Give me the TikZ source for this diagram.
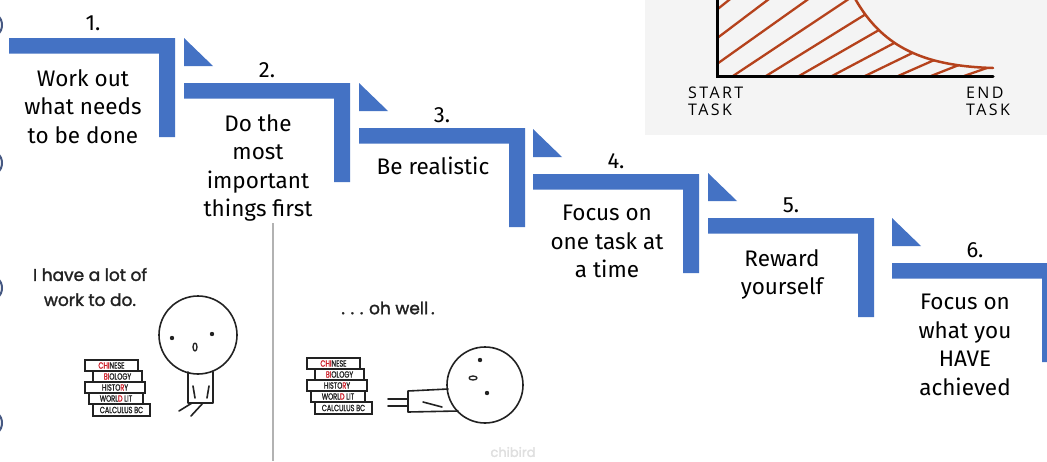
\documentclass[tikz,border=0pt]{standalone}
\usepackage{fontspec}
\setmainfont{Fira Sans}
\newfontfamily\handfont[FakeBold=1.6]{Poppins}
\newfontfamily\bookfont[FakeBold=1.4, FakeStretch=0.72]{Poppins}
\newfontfamily\chartfont[LetterSpace=15]{Open Sans}
\definecolor{stepblue}{RGB}{68,114,196}
\definecolor{rust}{RGB}{181,66,28}
\definecolor{chartbg}{RGB}{244,244,244}
\definecolor{ink}{RGB}{34,34,34}
\definecolor{bookred}{RGB}{205,30,40}
\definecolor{edgeblue}{RGB}{70,88,130}

\begin{document}
\begin{tikzpicture}[x=1pt, y=-1pt]
        % Styles
        \tikzset{stepnum/.style={font=\fontsize{22}{26}\selectfont, inner sep=0pt, anchor=base}}
        \tikzset{steptext/.style={font=\fontsize{22.5}{28.5}\selectfont, align=center, inner sep=0pt, anchor=north}}
        \tikzset{blue step/.style={fill=stepblue}}
        \tikzset{ink line/.style={draw=ink, line width=1.6pt, line cap=round, line join=round}}
        \tikzset{hand/.style={text=ink, font=\handfont\fontsize{17}{25}\selectfont, align=center}}
        \tikzset{chart label/.style={font=\chartfont\fontsize{16}{17}\selectfont, align=left, inner sep=0pt, anchor=base west}}
        \tikzset{book/.style={draw=ink, line width=1.1pt, fill=white, minimum height=11pt, inner sep=0pt, text=ink, font=\bookfont\fontsize{9}{9}\selectfont}}
        \tikzset{bookstack/.pic={
            \node[book, minimum width=53pt] (-b1) at (26.5,5.5) {\textcolor{bookred}{CHI}NESE};
            \node[book, minimum width=49pt] (-b2) at (32.5,16.5) {\textcolor{bookred}{BI}OLOGY};
            \node[book, minimum width=60pt] (-b3) at (30,27.5) {HISTO\textcolor{bookred}{R}Y};
            \node[book, minimum width=54pt] (-b4) at (31,38.5) {WORL\textcolor{bookred}{D} LIT};
            \node[book, minimum width=57pt, minimum height=12pt] (-b5) at (36.5,50) {CALCULUS BC};
        }}

        \fill[white] (0,0) rectangle (1047,461);
        \useasboundingbox (0,0) rectangle (1047,461);
        \clip (0,0) rectangle (1047,461);

        % Chart
        \fill[chartbg] (645,0) rectangle (1047,135);
        \begin{scope}
            \clip (719,-5) -- (853,-5) .. controls (880,45) and (920,66) .. (993,68) -- (993,75) -- (719,75) -- cycle;
            \foreach \i in {0,...,10}
                \draw[rust, line width=2.3pt, line cap=round] ({634+33*\i},76) -- ++(300,{-300*(0.8-0.045*\i)});
        \end{scope}
        \draw[rust, line width=2.5pt, line cap=round] (853,-5) .. controls (880,45) and (920,66) .. (993,68);
        \draw[black, line width=3pt, line cap=round] (717,-5) -- (717,76) -- (993,76);
        \node[chart label] (start) at (688,115) {START\\TASK};
        \node[chart label] (end) at (966,115) {END\\TASK};

        % Edge of the next slide
        \foreach \y in {25,163,288,423}
            \draw[edgeblue, line width=2pt] (-12,\y) circle (14pt);

        % Steps
        \fill[blue step] (9,38) rectangle (175,53.5) (159,38) rectangle (175,137);
        \fill[blue step] (184,83) rectangle (350,98.5) (334,83) rectangle (350,182);
        \fill[blue step] (359,128) rectangle (525,143.5) (509,128) rectangle (525,227);
        \fill[blue step] (533,174) rectangle (699,189.5) (683,174) rectangle (699,273);
        \fill[blue step] (708,218) rectangle (874,233.5) (858,218) rectangle (874,317);
        \fill[blue step] (892,263) rectangle (1058,278.5) (1042,263) rectangle (1058,362);

        % Pointers
        \fill[blue step] (184,38) -- (184,66) -- (213,66) -- cycle;
        \fill[blue step] (359,83) -- (359,111) -- (388,111) -- cycle;
        \fill[blue step] (533,129) -- (533,157) -- (562,157) -- cycle;
        \fill[blue step] (708,173) -- (708,201) -- (737,201) -- cycle;
        \fill[blue step] (892,218) -- (892,246) -- (921,246) -- cycle;

        % Numbers
        \node[stepnum] (num1) at (93,30) {1.};
        \node[stepnum] (num2) at (267,77) {2.};
        \node[stepnum] (num3) at (442,122) {3.};
        \node[stepnum] (num4) at (616,168) {4.};
        \node[stepnum] (num5) at (791,212) {5.};
        \node[stepnum] (num6) at (975,257) {6.};

        % Texts
        \node[steptext] (txt1) at (83,69) {Work out\\what needs\\to be done};
        \node[steptext] (txt2) at (258,114) {Do the\\most\\important\\things first};
        \node[steptext] (txt3) at (433,157) {Be realistic};
        \node[steptext] (txt4) at (607,205) {Focus on\\one task at\\a time};
        \node[steptext] (txt5) at (782,249) {Reward\\yourself};
        \node[steptext] (txt6) at (965,294) {Focus on\\what you\\HAVE\\achieved};

        % Comic
        \draw[gray!60, line width=1.5pt] (273,223) -- (273,461);
        \node[hand] (say1) at (90,287) {I have a lot of\\work to do.};
        \node[hand] (say2) at (388,308) {.\,\,.\,\,.\,\,oh well\,.};
        \node[text=gray!25, font=\handfont\fontsize{13}{13}\selectfont] (credit) at (513,452) {chibird};
        \pic (left) at (85,360) {bookstack};
        \pic (right) at (307,358) {bookstack};

        % Standing figure
        \node[circle, ink line, minimum size=78pt, inner sep=0pt] (head1) at (198,335) {};
        \fill[ink] (172,338) circle (2.2pt) (212,334) circle (2.2pt);
        \draw[ink line, line width=1.3pt] (195,347) ellipse [x radius=2pt, y radius=4pt];
        \draw[ink line] (188,372) -- (188,403) -- (213,403) -- (213,372);
        \draw[ink line] (193,386) -- (195,398) (209,386) -- (207,398);
        \draw[ink line] (192,403) -- (179,411) (203,403) -- (191,416);

        % Lying figure
        \node[circle, ink line, minimum size=76pt, inner sep=0pt] (head2) at (485,385) {};
        \fill[ink] (480,360) circle (2.2pt) (487,393) circle (2.2pt);
        \draw[ink line, line width=1.3pt] (473,378) ellipse [x radius=4pt, y radius=2pt];
        \draw[ink line] (448,389) -- (408,391) -- (408,412) -- (458,411);
        \draw[ink line] (388,399) -- (408,399) (388,406) -- (408,406);
        \draw[ink line] (423,402) -- (442,407);
\end{tikzpicture}
\end{document}
